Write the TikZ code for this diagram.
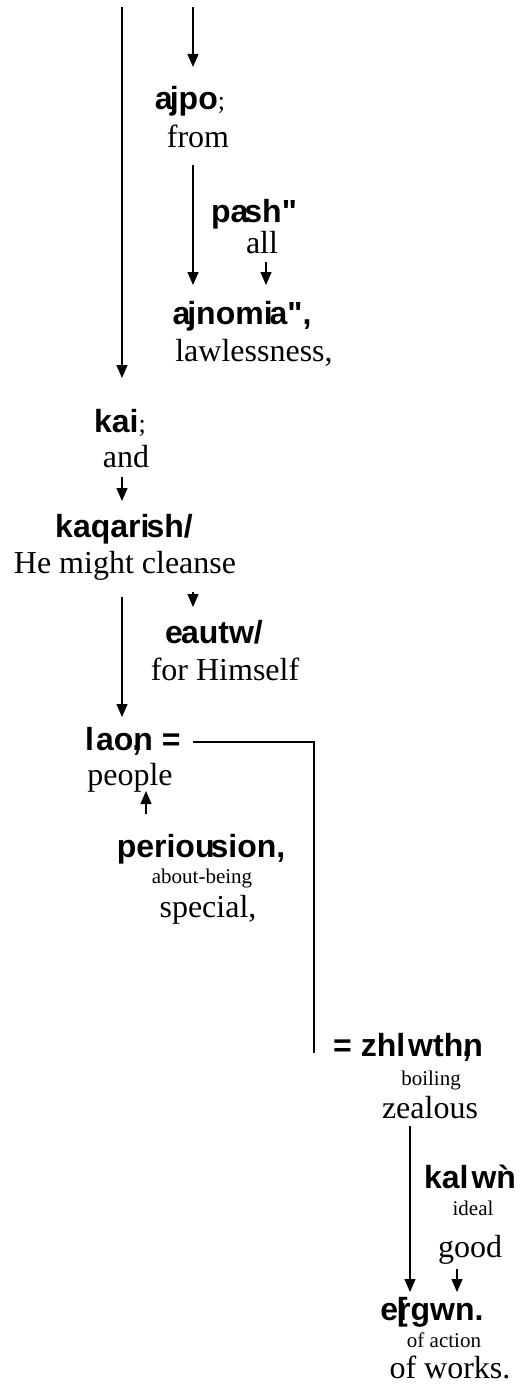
\documentclass[tikz,border=0pt]{standalone}
\usepackage{fontspec}
\setmainfont{Liberation Serif}
\newfontfamily\grkfont[Ligatures=NoCommon]{Liberation Sans}
\usetikzlibrary{arrows.meta}
\newcommand{\lightsemi}{{\rmfamily\mdseries\fontsize{26}{30}\selectfont ;}}
\begin{document}
\begin{tikzpicture}[x=1pt,y=-1pt,
  gk/.style={inner sep=0pt, anchor=base, font=\grkfont\bfseries\fontsize{32}{38}\selectfont},
  en/.style={inner sep=0pt, anchor=base, font=\fontsize{32}{38}\selectfont},
  sm/.style={inner sep=0pt, anchor=base, font=\fontsize{21}{25}\selectfont},
  arr/.style={line width=1.3pt, -{Triangle[width=11pt,length=13pt]}},
  ln/.style={line width=1.3pt}]
\useasboundingbox (0,0) rectangle (524,1388);
% text nodes
\node[gk] (ajpo) at (190,110) {a\kern-3pt jpo\lightsemi};
\node[en] (from) at (198,148) {from};
\node[gk] (pash) at (254,223) {pa\kern-4pt sh"};
\node[en] (all) at (262,254) {all};
\node[gk] (ajnomias) at (242,324) {a\kern-3pt jnomi\kern-3pt a",};
\node[en] (lawless) at (254,361) {lawlessness,};
\node[gk] (kai) at (120,432) {kai\lightsemi};
\node[en] (and) at (126,467) {and};
\node[gk] (kaqarish) at (124,537) {kaqari\kern-3pt sh/};
\node[en] (cleanse) at (125,573) {He might cleanse};
\node[gk] (eautw) at (214,643) {e\kern-2pt autw/};
\node[en] (himself) at (225,680) {for Himself};
\node[gk, anchor=base west] (laon) at (85,750) {l\kern2pt ao\rlap{\kern-1pt,}n =};
\node[en] (people) at (130,785) {people};
\node[gk] (periousion) at (201,857) {periou\kern-4pt sion,};
\node[sm] (aboutbeing) at (202,883) {about-being};
\node[en] (special) at (208,917) {special,};
\node[gk, anchor=base west] (zhlwthn) at (333,1056) {= zhl\kern3pt wth\rlap{\kern-1pt,}n};
\node[sm] (boiling) at (431,1085) {boiling};
\node[en] (zealous) at (430,1118) {zealous};
\node[gk] (kalwn) at (470,1188) {kal\kern3pt w\rlap{\kern2pt\symbol{96}}n};
\node[sm] (ideal) at (473,1215) {ideal};
\node[en] (good) at (470,1257) {good};
\node[gk] (ergwn) at (432,1320) {e\rlap{\kern-1pt[}rgwn.};
\node[sm] (ofaction) at (444,1347) {of action};
\node[en] (ofworks) at (450,1378) {of works.};
% connector end points
\coordinate (a1s) at (122,7);
\coordinate (a1e) at (122,378);
\coordinate (a2s) at (193,7);
\coordinate (a2e) at (193,67);
\coordinate (a3s) at (193,165);
\coordinate (a3e) at (193,285);
\coordinate (a4s) at (266,262);
\coordinate (a4e) at (266,285);
\coordinate (a5s) at (122,477);
\coordinate (a5e) at (122,501);
\coordinate (a6s) at (193,592);
\coordinate (a6e) at (193,607);
\coordinate (a7s) at (122,597);
\coordinate (a7e) at (122,717);
\coordinate (l1) at (193,742);
\coordinate (l2) at (314,742);
\coordinate (l3) at (314,1053);
\coordinate (a8s) at (146,814);
\coordinate (a8e) at (146,791);
\coordinate (a9s) at (410,1126);
\coordinate (a9e) at (410,1292);
\coordinate (a10s) at (457,1269);
\coordinate (a10e) at (457,1292);
% connectors
\draw[arr] (a1s) -- (a1e);
\draw[arr] (a2s) -- (a2e);
\draw[arr] (a3s) -- (a3e);
\draw[arr] (a4s) -- (a4e);
\draw[arr] (a5s) -- (a5e);
\draw[arr] (a6s) -- (a6e);
\draw[arr] (a7s) -- (a7e);
\draw[ln] (l1) -- (l2) -- (l3);
\draw[arr] (a8s) -- (a8e);
\draw[arr] (a9s) -- (a9e);
\draw[arr] (a10s) -- (a10e);
\end{tikzpicture}
\end{document}
